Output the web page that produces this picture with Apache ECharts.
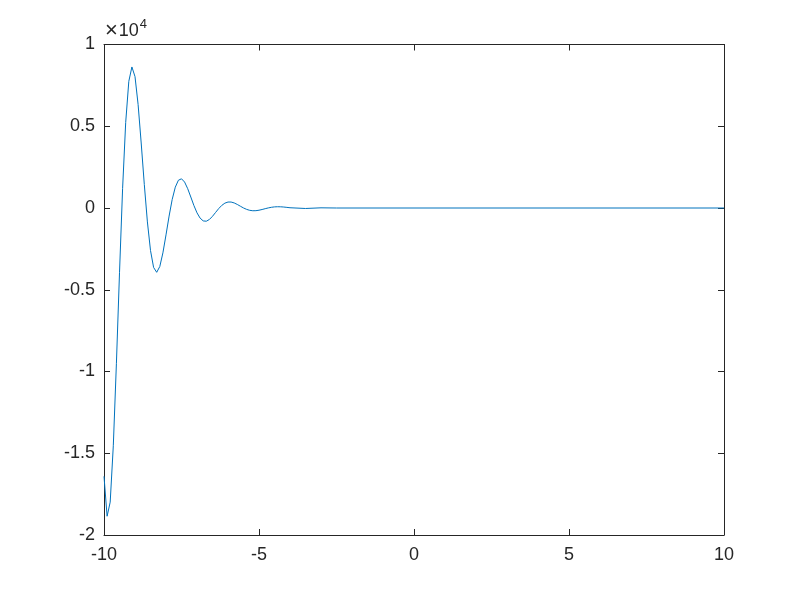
<!DOCTYPE html>
<html>
<head>
<meta charset="utf-8">
<script src="https://cdn.jsdelivr.net/npm/echarts@6/dist/echarts.min.js"></script>
<style>html,body{margin:0;padding:0;background:#fff}#c{width:800px;height:600px}</style>
</head>
<body>
<div id="c"></div>
<script>
var xValues = [-10,-9.9,-9.8,-9.7,-9.6,-9.5,-9.4,-9.3,-9.2,-9.1,-9,-8.9,-8.8,-8.7,-8.6,-8.5,-8.4,-8.3,-8.2,-8.1,-8,-7.9,-7.8,-7.7,-7.6,-7.5,-7.4,-7.3,-7.2,-7.1,-7,-6.9,-6.8,-6.7,-6.6,-6.5,-6.4,-6.3,-6.2,-6.1,-6,-5.9,-5.8,-5.7,-5.6,-5.5,-5.4,-5.3,-5.2,-5.1,-5,-4.9,-4.8,-4.7,-4.6,-4.5,-4.4,-4.3,-4.2,-4.1,-4,-3.5,-3,-2.5,-2,-1,0,1,2,3,4,5,6,7,8,9,10];
var yValues = [-16412,-18852,-17990,-14544,-9525,-3961,1194,5235,7746,8626,8037,6332,3976,1442,-851,-2600,-3636,-3933,-3578,-2745,-1644,-494,523,1275,1698,1786,1587,1183,672,152,-297,-619,-789,-809,-702,-507,-271,-37,161,298,365,365,309,216,108,2,-84,-142,-168,-164,-135,-92,-42,5,43,68,77,73,59,38,16,-30,11,0,0,0,0,0,0,0,0,0,0,0,0,0,0];
var xTicks = [-10,-5,0,5,10];
var yTicks = [1,0.5,0,-0.5,-1,-1.5,-2];
var yScale = 10000;

var data = xValues.map(function(x,i){return [x, yValues[i]];});
var txt = '#262626';
var font = 'Liberation Sans, Arial, sans-serif';
var chart = echarts.init(document.getElementById('c'), null, {renderer:'canvas'});
function axisCommon(){
  return {
    axisLine:{show:true,onZero:false,lineStyle:{color:txt,width:1}},
    axisTick:{show:true,inside:true,length:6,lineStyle:{color:txt}},
    splitLine:{show:false}
  };
}
var xa = Object.assign(axisCommon(), {type:'value',min:xTicks[0],max:xTicks[xTicks.length-1],interval:5,position:'bottom',
  axisLabel:{color:txt,fontSize:18,fontFamily:font,margin:11}});
var xa2 = Object.assign(axisCommon(), {type:'value',min:xTicks[0],max:xTicks[xTicks.length-1],interval:5,position:'top',axisLabel:{show:false}});
var ya = Object.assign(axisCommon(), {type:'value',min:yTicks[yTicks.length-1]*yScale,max:yTicks[0]*yScale,interval:5000,position:'left',
  axisLabel:{color:txt,fontSize:18,fontFamily:font,margin:9,formatter:function(v){return String(Math.round(v/yScale*10)/10);}}});
var ya2 = Object.assign(axisCommon(), {type:'value',min:yTicks[yTicks.length-1]*yScale,max:yTicks[0]*yScale,interval:5000,position:'right',axisLabel:{show:false}});
chart.setOption({
  animation:false,
  backgroundColor:'#fff',
  grid:{left:104,right:76,top:44.5,bottom:65,containLabel:false},
  xAxis:[xa,xa2],
  yAxis:[ya,ya2],
  graphic:[{type:'text',left:105,top:18,style:{
    text:'{x|×}{a|10}{b|4}',
    rich:{x:{fontSize:22,fontFamily:font,fill:txt,padding:[4,1,0,0]},a:{fontSize:18,fontFamily:font,fill:txt,padding:[6,0,0,0]},b:{fontSize:13,fontFamily:font,fill:txt,padding:[0,0,8,1]}}
  }}],
  series:[{type:'line',xAxisIndex:0,yAxisIndex:0,data:data,showSymbol:false,symbol:'none',
    lineStyle:{color:'#0072BD',width:1},smooth:false}]
});
</script>
</body>
</html>
